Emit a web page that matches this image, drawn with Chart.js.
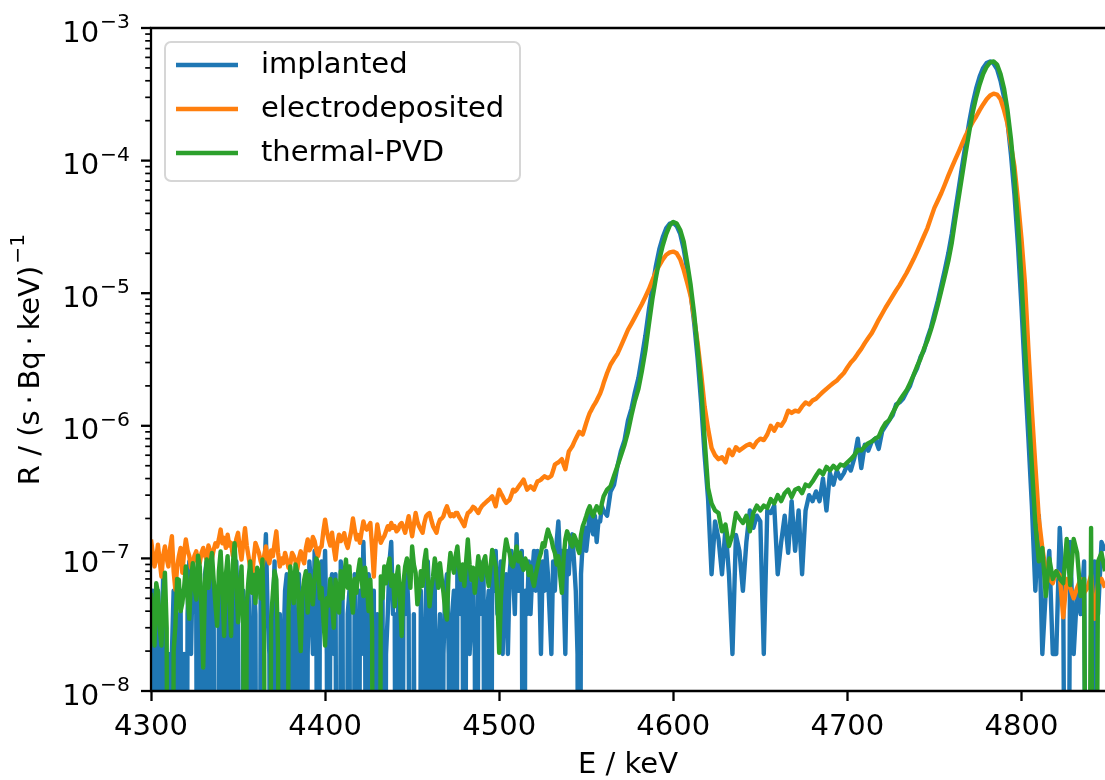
<!DOCTYPE html>
<html>
<head>
<meta charset="utf-8">
<script src="https://cdn.jsdelivr.net/npm/chart.js@4.4.1/dist/chart.umd.min.js"></script>
<style>
  html, body { margin: 0; padding: 0; background: #fff; overflow: hidden; }
  canvas { display: block; }
</style>
</head>
<body>
<canvas id="spectrum" width="1105" height="780"></canvas>
<script>
// energy bins: 1 keV up to 4560 keV (noisy tail), 2 keV above
var energy = [];
for (var e = 4300; e <= 4560; e += 1) energy.push(e);
for (var e2 = 4562; e2 <= 4848; e2 += 2) energy.push(e2);

// R / (s Bq keV)^-1 (row start energy in comment)
var implanted = [
  // 1 keV bins, 20 per row
  1.9e-8, 5.7e-8, 0, 3.8e-8, 5.7e-8, 0, 1.9e-8, 7.6e-8, 0, 1.9e-8, 1.9e-8, 0, 1.9e-8, 5.7e-8, 0, 3.8e-8, 0, 5.7e-8, 0, 1.9e-8, // 4300
  0, 3.8e-8, 9.5e-8, 1.9e-8, 9.5e-8, 5.7e-8, 3.8e-8, 0, 5.7e-8, 1.9e-8, 0, 7.6e-8, 9.5e-8, 0, 3.8e-8, 7.6e-8, 3.8e-8, 0, 0, 5.7e-8, // 4320
  5.7e-8, 1.9e-8, 0, 7.6e-8, 0, 3.8e-8, 5.7e-8, 0, 3.8e-8, 9.5e-8, 3.8e-8, 0, 0, 5.7e-8, 1.9e-8, 0, 5.7e-8, 1.9e-8, 0, 7.6e-8, // 4340
  3.8e-8, 0, 0, 5.7e-8, 1.9e-8, 7.6e-8, 1.52e-7, 3.8e-8, 1.9e-8, 0, 3.8e-8, 9.5e-8, 0, 1.9e-8, 3.8e-8, 0, 1.9e-8, 5.7e-8, 7.6e-8, 0, // 4360
  0, 3.8e-8, 5.7e-8, 0, 1.9e-8, 7.6e-8, 0, 3.8e-8, 5.7e-8, 0, 1.9e-8, 9.5e-8, 5.7e-8, 1.9e-8, 1.14e-7, 3.8e-8, 0, 5.7e-8, 9.5e-8, 3.8e-8, // 4380
  1.14e-7, 1.9e-8, 0, 5.7e-8, 7.6e-8, 1.9e-8, 7.6e-8, 0, 0, 9.5e-8, 5.7e-8, 0, 0, 3.8e-8, 5.7e-8, 0, 0, 7.6e-8, 1.9e-8, 0, // 4400
  5.7e-8, 1.9e-8, 1.33e-7, 3.8e-8, 0, 7.6e-8, 5.7e-8, 1.9e-8, 5.7e-8, 0, 3.8e-8, 0, 0, 5.7e-8, 0, 1.9e-8, 3.8e-8, 9.5e-8, 1.33e-7, 3.8e-8, // 4420
  3.8e-8, 0, 7.6e-8, 1.9e-8, 0, 5.7e-8, 3.8e-8, 7.6e-8, 3.8e-8, 0, 0, 3.8e-8, 0, 0, 0, 5.7e-8, 1.9e-8, 0, 5.7e-8, 9.5e-8, // 4440
  3.8e-8, 0, 3.8e-8, 7.6e-8, 0, 1.9e-8, 3.8e-8, 0, 1.9e-8, 5.7e-8, 7.6e-8, 1.9e-8, 0, 3.8e-8, 5.7e-8, 0, 9.5e-8, 5.7e-8, 3.8e-8, 7.6e-8, // 4460
  0, 5.7e-8, 9.5e-8, 1.9e-8, 3.8e-8, 7.6e-8, 1.9e-8, 0, 7.6e-8, 3.8e-8, 5.7e-8, 9.5e-8, 0, 3.8e-8, 5.7e-8, 0, 1.14e-7, 5.7e-8, 1.14e-7, 3.8e-8, // 4480
  5.7e-8, 9.5e-8, 1.9e-8, 5.7e-8, 7.6e-8, 1.9e-8, 7.6e-8, 1.14e-7, 7.6e-8, 3.8e-8, 1.52e-7, 5.7e-8, 7.6e-8, 1.14e-7, 0, 5.7e-8, 3.8e-8, 9.5e-8, 3.8e-8, 7.6e-8, // 4500
  1.14e-7, 5.7e-8, 1.14e-7, 7.6e-8, 1.9e-8, 9.5e-8, 5.7e-8, 1.14e-7, 7.6e-8, 3.8e-8, 1.9e-8, 9.5e-8, 5.7e-8, 1.33e-7, 1.9e-7, 9.5e-8, 1.14e-7, 5.7e-8, 1.9e-8, 1.14e-7, // 4520
  7.6e-8, 1.33e-7, 1.52e-7, 9.5e-8, 5.7e-8, 1.9e-8, 0, 7.6e-8, 1.33e-7, 1.71e-7, 1.14e-7, 1.52e-7, 2.28e-7, 1.71e-7, 1.52e-7, 2.09e-7, 1.33e-7, 1.9e-7, 1.9e-7, 2.47e-7, // 4540
  2.28e-7, // 4560
  // 2 keV bins
  2.1e-7, 3.2e-7, 3.6e-7, 5.0e-7, 6.5e-7, 7.8e-7, 1.1e-6, 1.35e-6, 1.8e-6,          // 4562
  2.3e-6, 3.3e-6, 4.8e-6, 7.5e-6, 1.1e-5, 1.6e-5, 2.15e-5, 2.65e-5, 3.1e-5, 3.35e-5, // 4580
  3.4e-5, 3.2e-5, 2.8e-5, 2.15e-5, 1.5e-5, 1.0e-5, 6.0e-6, 3.2e-6, 1.5e-6, 6.0e-7,  // 4600
  2.8e-7, 7.6e-8, 1.9e-7, 1.4e-7, 7.6e-8, 1.7e-7, 7.6e-8, 1.9e-8, 1.5e-7, 1.14e-7, // 4620
  5.7e-8, 1.33e-7, 2.3e-7, 1.7e-7, 2.1e-7, 1.9e-7, 1.9e-8, 2.3e-7, 2.2e-7, 2.5e-7, // 4640
  7.6e-8, 1.33e-7, 2.1e-7, 1.1e-7, 2.7e-7, 1.14e-7, 2.3e-7, 7.6e-8, 2.3e-7, 3.0e-7, // 4660
  2.7e-7, 3.2e-7, 2.7e-7, 4.0e-7, 2.3e-7, 4.4e-7, 3.6e-7, 4.6e-7, 4.0e-7, 4.4e-7,  // 4680
  5.1e-7, 4.6e-7, 5.7e-7, 8.0e-7, 4.8e-7, 7.2e-7, 6.5e-7, 7.6e-7, 8.0e-7, 6.7e-7,  // 4700
  9.1e-7, 1.0e-6, 1.1e-6, 1.2e-6, 1.45e-6, 1.5e-6, 1.6e-6, 1.8e-6, 2.0e-6, 2.4e-6, // 4720
  2.7e-6, 3.3e-6, 3.7e-6, 4.6e-6, 5.5e-6, 7.0e-6, 8.8e-6, 1.15e-5, 1.5e-5, 2.0e-5, // 4740
  2.8e-5, 4.2e-5, 6.2e-5, 9.2e-5, 1.35e-4, 1.95e-4, 2.7e-4, 3.5e-4, 4.3e-4, 5.0e-4, // 4760
  5.45e-4, 5.6e-4, 5.4e-4, 4.9e-4, 4.0e-4, 3.0e-4, 1.95e-4, 1.1e-4, 5.5e-5, 2.3e-5, // 4780
  8.0e-6, 2.4e-6, 8.0e-7, 2.5e-7, 5.7e-8, 2.1e-7, 1.9e-8, 5.7e-8, 1.14e-7, 1.9e-8, // 4800
  1.9e-8, 1.7e-7, 5.7e-8, 0, 1.33e-7, 1.9e-8, 5.7e-8, 3.8e-8, 9.5e-8, 0,          // 4820
  0, 9.5e-8, 3.8e-8, 1.33e-7, 1.14e-7                                             // 4840
];

var electrodeposited = [
  // 1 keV bins, 20 per row
  1.39e-7, 1.1e-7, 8.7e-8, 1.0e-7, 1.27e-7, 9.5e-8, 7.3e-8, 1.05e-7, 1.23e-7, 1.0e-7, 8.7e-8, 1.2e-7, 1.47e-7, 8.0e-8, 5.8e-8, 8.5e-8, 1.04e-7, 1.2e-7, 7.8e-8, 1.1e-7, // 4300
  1.39e-7, 1.15e-7, 1.04e-7, 8.5e-8, 9.2e-8, 1.05e-7, 1.13e-7, 9.0e-8, 9.2e-8, 1.1e-7, 1.2e-7, 1.05e-7, 9.8e-8, 1.25e-7, 1.13e-7, 1.0e-7, 1.16e-7, 1.3e-7, 1.23e-7, 1.4e-7, // 4320
  1.65e-7, 1.3e-7, 1.43e-7, 1.2e-7, 1.51e-7, 1.25e-7, 1.31e-7, 1.05e-7, 1.16e-7, 1.4e-7, 1.56e-7, 1.2e-7, 9.8e-8, 1.3e-7, 1.69e-7, 1.25e-7, 1.04e-7, 8.5e-8, 6.9e-8, 1.0e-7, // 4340
  1.31e-7, 1.2e-7, 1.1e-7, 9.5e-8, 8.7e-8, 1.05e-7, 1.23e-7, 1.0e-7, 9.2e-8, 1.15e-7, 1.04e-7, 1.3e-7, 1.6e-7, 1.1e-7, 8.7e-8, 1.0e-7, 9.2e-8, 1.1e-7, 9.8e-8, 8.5e-8, // 4360
  9.0e-8, 1.1e-7, 1.04e-7, 9.5e-8, 8.2e-8, 1.0e-7, 1.13e-7, 1.0e-7, 9.2e-8, 1.2e-7, 1.39e-7, 1.15e-7, 1.23e-7, 1.45e-7, 1.35e-7, 1.15e-7, 1.04e-7, 1.2e-7, 1.23e-7, 1.6e-7, // 4380
  1.96e-7, 1.6e-7, 1.39e-7, 1.25e-7, 1.56e-7, 1.2e-7, 9.8e-8, 1.3e-7, 1.51e-7, 1.35e-7, 1.43e-7, 1.55e-7, 1.31e-7, 1.2e-7, 1.39e-7, 1.6e-7, 2.0e-7, 1.65e-7, 1.39e-7, 1.5e-7, // 4400
  1.31e-7, 1.6e-7, 1.9e-7, 1.7e-7, 1.65e-7, 1.75e-7, 1.85e-7, 1.2e-7, 7.3e-8, 1.3e-7, 1.8e-7, 1.5e-7, 1.31e-7, 1.4e-7, 1.47e-7, 1.6e-7, 1.75e-7, 1.65e-7, 1.85e-7, 1.7e-7, // 4420
  1.75e-7, 1.6e-7, 1.65e-7, 1.8e-7, 1.85e-7, 1.7e-7, 1.56e-7, 1.8e-7, 2.08e-7, 1.75e-7, 1.47e-7, 1.8e-7, 2.2e-7, 1.9e-7, 1.75e-7, 1.65e-7, 1.56e-7, 1.85e-7, 2.08e-7, 2.15e-7, // 4440
  2.2e-7, 1.95e-7, 1.75e-7, 1.65e-7, 1.56e-7, 1.8e-7, 1.96e-7, 2.0e-7, 2.08e-7, 2.3e-7, 2.47e-7, 2.25e-7, 2.08e-7, 2.15e-7, 2.08e-7, 2.2e-7, 2.2e-7, 2.05e-7, 1.96e-7, 1.85e-7, // 4460
  1.75e-7, 2.0e-7, 2.2e-7, 2.25e-7, 2.33e-7, 2.45e-7, 2.4e-7, 2.3e-7, 2.2e-7, 2.35e-7, 2.47e-7, 2.55e-7, 2.62e-7, 2.7e-7, 2.77e-7, 2.85e-7, 2.94e-7, 2.7e-7, 2.47e-7, 2.9e-7, // 4480
  3.3e-7, 3.1e-7, 2.94e-7, 2.75e-7, 2.62e-7, 2.7e-7, 2.77e-7, 3.0e-7, 3.3e-7, 3.2e-7, 3.3e-7, 3.45e-7, 3.6e-7, 3.75e-7, 3.93e-7, 3.6e-7, 3.3e-7, 3.4e-7, 3.5e-7, 3.4e-7, // 4500
  3.3e-7, 3.55e-7, 3.81e-7, 3.85e-7, 3.93e-7, 4.05e-7, 4.16e-7, 4.1e-7, 4.04e-7, 4.1e-7, 4.2e-7, 4.6e-7, 5.1e-7, 5.2e-7, 5.3e-7, 5.45e-7, 5.6e-7, 5.1e-7, 4.7e-7, 5.5e-7, // 4520
  6.4e-7, 6.7e-7, 7.0e-7, 7.5e-7, 8.0e-7, 8.5e-7, 9.0e-7, 8.8e-7, 8.6e-7, 9.5e-7, 1.05e-6, 1.15e-6, 1.25e-6, 1.32e-6, 1.4e-6, 1.47e-6, 1.55e-6, 1.65e-6, 1.75e-6, 1.9e-6, // 4540
  2.1e-6, // 4560
  // 2 keV bins
  2.5e-6, 2.9e-6, 3.2e-6, 3.5e-6, 4.0e-6, 4.6e-6, 5.3e-6, 5.9e-6, 6.6e-6,               // 4562
  7.4e-6, 8.3e-6, 9.4e-6, 1.07e-5, 1.25e-5, 1.45e-5, 1.62e-5, 1.8e-5, 1.95e-5, 2.03e-5, // 4580
  2.06e-5, 2.0e-5, 1.8e-5, 1.5e-5, 1.2e-5, 9.5e-6, 6.5e-6, 4.2e-6, 2.5e-6, 1.4e-6,     // 4600
  9.5e-7, 6.8e-7, 6.0e-7, 5.6e-7, 5.8e-7, 5.3e-7, 6.6e-7, 6.0e-7, 6.9e-7, 6.5e-7,     // 4620
  6.8e-7, 7.1e-7, 7.3e-7, 6.9e-7, 7.6e-7, 8.0e-7, 7.8e-7, 8.6e-7, 1.0e-6, 9.2e-7,     // 4640
  1.03e-6, 1.0e-6, 1.1e-6, 1.3e-6, 1.25e-6, 1.3e-6, 1.28e-6, 1.4e-6, 1.5e-6, 1.45e-6, // 4660
  1.55e-6, 1.6e-6, 1.7e-6, 1.8e-6, 1.9e-6, 2.0e-6, 2.1e-6, 2.2e-6, 2.35e-6, 2.5e-6,   // 4680
  2.75e-6, 3.0e-6, 3.2e-6, 3.5e-6, 3.8e-6, 4.2e-6, 4.6e-6, 5.0e-6, 5.6e-6, 6.3e-6,    // 4700
  7.0e-6, 7.8e-6, 8.6e-6, 9.5e-6, 1.05e-5, 1.15e-5, 1.28e-5, 1.42e-5, 1.6e-5, 1.8e-5, // 4720
  2.05e-5, 2.35e-5, 2.7e-5, 3.1e-5, 3.7e-5, 4.4e-5, 5.0e-5, 5.7e-5, 6.6e-5, 7.7e-5,   // 4740
  8.9e-5, 1.02e-4, 1.17e-4, 1.35e-4, 1.55e-4, 1.75e-4, 1.95e-4, 2.15e-4, 2.4e-4, 2.65e-4, // 4760
  2.9e-4, 3.1e-4, 3.2e-4, 3.15e-4, 2.9e-4, 2.4e-4, 1.9e-4, 1.3e-4, 9.0e-5, 5.0e-5,     // 4780
  2.6e-5, 1.2e-5, 3.8e-6, 1.3e-6, 5.0e-7, 2.0e-7, 1.2e-7, 8.0e-8, 7.0e-8, 6.5e-8,      // 4800
  8.0e-8, 7.5e-8, 3.6e-8, 7.0e-8, 6.0e-8, 5.0e-8, 6.0e-8, 7.0e-8, 5.5e-8, 6.0e-8,      // 4820
  7.5e-8, 3.5e-8, 6.5e-8, 7.0e-8, 6.0e-8                                                // 4840
];

var thermalPVD = [
  // 1 keV bins, 20 per row
  5.5e-8, 3.6e-8, 2.2e-8, 6.5e-8, 5.5e-8, 3.0e-8, 2.2e-8, 4.8e-8, 7.8e-8, 3.0e-8, 0, 0, 0, 2.0e-8, 3.1e-8, 7.0e-8, 6.9e-8, 4.0e-8, 4.6e-8, 6.0e-8, // 4300
  8.7e-8, 5.0e-8, 3.5e-8, 7.0e-8, 9.2e-8, 6.0e-8, 4.9e-8, 1.05e-7, 8.7e-8, 4.0e-8, 1.5e-8, 6.5e-8, 9.8e-8, 6.0e-8, 8.7e-8, 1.1e-7, 6.9e-8, 4.5e-8, 3.1e-8, 8.0e-8, // 4320
  1.13e-7, 6.0e-8, 2.6e-8, 7.5e-8, 1.04e-7, 5.0e-8, 2.6e-8, 9.0e-8, 1.3e-7, 7.0e-8, 3.3e-8, 5.5e-8, 8.7e-8, 3.0e-8, 0, 4.5e-8, 6.9e-8, 9.5e-8, 5.5e-8, 7.5e-8, // 4340
  4.6e-8, 8.5e-8, 7.5e-8, 5.0e-8, 9.8e-8, 2.5e-8, 0, 0, 0, 3.5e-8, 5.5e-8, 8.0e-8, 6.9e-8, 2.0e-8, 0, 0, 0, 0, 0, 4.0e-8, // 4360
  8.7e-8, 6.5e-8, 4.6e-8, 9.0e-8, 7.8e-8, 4.0e-8, 2.0e-8, 5.5e-8, 6.9e-8, 8.0e-8, 3.9e-8, 7.5e-8, 6.2e-8, 4.5e-8, 7.0e-8, 1.0e-7, 9.2e-8, 5.0e-8, 6.0e-8, 3.5e-8, // 4380
  2.2e-8, 5.0e-8, 4.4e-8, 7.0e-8, 4.6e-8, 3.0e-8, 6.9e-8, 5.5e-8, 3.9e-8, 8.0e-8, 5.0e-8, 7.5e-8, 9.8e-8, 6.0e-8, 8.7e-8, 5.0e-8, 3.9e-8, 7.0e-8, 5.5e-8, 8.0e-8, // 4400
  9.8e-8, 7.0e-8, 5.2e-8, 8.5e-8, 6.2e-8, 4.0e-8, 6.9e-8, 3.0e-8, 0, 0, 0, 0, 7.3e-8, 5.0e-8, 8.7e-8, 6.5e-8, 8.7e-8, 1.0e-7, 6.2e-8, 7.5e-8, // 4420
  4.35e-8, 7.0e-8, 8.7e-8, 5.0e-8, 2.6e-8, 6.5e-8, 8.7e-8, 1.0e-7, 8.7e-8, 6.0e-8, 1.23e-7, 9.0e-8, 7.8e-8, 4.5e-8, 5.5e-8, 8.0e-8, 6.2e-8, 9.5e-8, 1.16e-7, 7.0e-8, // 4440
  4.35e-8, 6.0e-8, 7.3e-8, 1.0e-7, 8.2e-8, 6.0e-8, 9.2e-8, 7.0e-8, 5.5e-8, 4.0e-8, 3.46e-8, 8.0e-8, 1.1e-7, 9.0e-8, 7.8e-8, 1.05e-7, 1.23e-7, 8.5e-8, 6.9e-8, 9.0e-8, // 4460
  6.2e-8, 9.5e-8, 1.39e-7, 9.0e-8, 6.9e-8, 8.5e-8, 5.5e-8, 7.5e-8, 1.04e-7, 8.0e-8, 6.9e-8, 9.5e-8, 1.04e-7, 7.5e-8, 6.2e-8, 8.5e-8, 1.16e-7, 1.0e-7, 8.7e-8, 5.0e-8, // 4480
  1.94e-8, 5.0e-8, 7.8e-8, 1.1e-7, 1.39e-7, 1.2e-7, 1.1e-7, 9.0e-8, 8.7e-8, 1.05e-7, 1.23e-7, 9.5e-8, 1.1e-7, 9.0e-8, 8.2e-8, 1.0e-7, 9.2e-8, 7.5e-8, 8.7e-8, 7.0e-8, // 4500
  6.2e-8, 7.5e-8, 8.7e-8, 1.0e-7, 1.1e-7, 1.3e-7, 1.23e-7, 1.45e-7, 1.65e-7, 1.5e-7, 1.39e-7, 1.2e-7, 1.1e-7, 9.0e-8, 1.04e-7, 7.5e-8, 5.5e-8, 1.0e-7, 1.39e-7, 1.6e-7, // 4520
  1.47e-7, 1.3e-7, 1.23e-7, 1.5e-7, 1.39e-7, 1.2e-7, 1.1e-7, 1.5e-7, 1.75e-7, 1.9e-7, 2.08e-7, 2.3e-7, 2.47e-7, 2.2e-7, 2.08e-7, 2.3e-7, 2.47e-7, 2.35e-7, 2.2e-7, 2.6e-7, // 4540
  2.94e-7, // 4560
  // 2 keV bins
  3.3e-7, 3.5e-7, 4.2e-7, 5.0e-7, 6.0e-7, 7.2e-7, 9.0e-7, 1.2e-6, 1.55e-6,            // 4562
  1.9e-6, 2.6e-6, 3.7e-6, 5.8e-6, 9.0e-6, 1.3e-5, 1.8e-5, 2.3e-5, 2.8e-5, 3.25e-5,    // 4580
  3.45e-5, 3.35e-5, 3.0e-5, 2.45e-5, 1.7e-5, 1.15e-5, 7.0e-6, 3.8e-6, 2.0e-6, 8.0e-7, // 4600
  3.4e-7, 2.6e-7, 2.3e-7, 2.2e-7, 1.6e-7, 1.8e-7, 1.24e-7, 1.5e-7, 2.2e-7, 2.0e-7,    // 4620
  1.85e-7, 2.1e-7, 1.6e-7, 2.2e-7, 2.5e-7, 2.3e-7, 2.5e-7, 2.4e-7, 2.8e-7, 2.6e-7,    // 4640
  3.0e-7, 2.7e-7, 3.1e-7, 3.3e-7, 2.9e-7, 3.3e-7, 3.4e-7, 3.1e-7, 3.6e-7, 3.5e-7,     // 4660
  3.8e-7, 4.2e-7, 4.6e-7, 4.3e-7, 4.9e-7, 4.6e-7, 5.0e-7, 4.7e-7, 5.1e-7, 5.0e-7,     // 4680
  5.3e-7, 5.6e-7, 6.0e-7, 6.6e-7, 6.5e-7, 7.0e-7, 7.4e-7, 7.6e-7, 8.0e-7, 8.3e-7,     // 4700
  9.5e-7, 1.05e-6, 1.1e-6, 1.25e-6, 1.4e-6, 1.55e-6, 1.7e-6, 1.85e-6, 2.1e-6, 2.4e-6, // 4720
  2.8e-6, 3.2e-6, 3.8e-6, 4.4e-6, 5.3e-6, 6.5e-6, 8.2e-6, 1.05e-5, 1.35e-5, 1.75e-5,  // 4740
  2.4e-5, 3.6e-5, 5.3e-5, 7.8e-5, 1.15e-4, 1.65e-4, 2.3e-4, 3.0e-4, 3.75e-4, 4.5e-4,  // 4760
  5.1e-4, 5.5e-4, 5.6e-4, 5.3e-4, 4.5e-4, 3.5e-4, 2.4e-4, 1.45e-4, 7.5e-5, 3.4e-5,    // 4780
  1.3e-5, 4.0e-6, 1.4e-6, 5.0e-7, 1.8e-7, 9.5e-8, 1.2e-7, 5.2e-8, 1.0e-7, 7.0e-8,     // 4800
  8.0e-8, 7.0e-8, 6.5e-8, 1.4e-7, 6.3e-8, 1.4e-7, 1.1e-7, 5.2e-8, 7.0e-8, 0,          // 4820
  1.7e-7, 0, 9.5e-8, 1.1e-7, 8.0e-8                                                    // 4840
];

var seriesNames = ['implanted', 'electrodeposited', 'thermal-PVD'];
var seriesColors = ['#1f77b4', '#ff7f0e', '#2ca02c'];
var xTicks = [4300, 4400, 4500, 4600, 4700, 4800];
var yDecades = [-8, -7, -6, -5, -4, -3];

var FONT = '"DejaVu Sans", sans-serif';
var FS = 29;       // main text size
var FS_SUP = 20.3; // exponent size

// empty bins fall off the log axis, as in the original
function points(values) {
  return energy.map(function(en, i) {
    return { x: en, y: values[i] > 0 ? values[i] : 1e-12 };
  });
}

function makeSet(i, values) {
  return {
    label: seriesNames[i],
    data: points(values),
    borderColor: seriesColors[i],
    backgroundColor: seriesColors[i],
    borderWidth: 4.4,
    borderJoinStyle: 'round',
    borderCapStyle: 'butt',
    pointRadius: 0,
    tension: 0,
    clip: 0,
    order: 3 - i
  };
}

var frame = {
  id: 'frame',
  afterDatasetsDraw: function(chart) {
    var ctx = chart.ctx, a = chart.chartArea, y = chart.scales.y;
    ctx.save();
    ctx.strokeStyle = '#000';
    ctx.fillStyle = '#000';

    // log ticks on the left axis
    yDecades.forEach(function(p) {
      for (var m = 1; m <= 9; m++) {
        var py = y.getPixelForValue(m * Math.pow(10, p));
        var major = m === 1;
        ctx.lineWidth = major ? 2.3 : 1.7;
        ctx.beginPath();
        ctx.moveTo(a.left - (major ? 10 : 5.8), py);
        ctx.lineTo(a.left, py);
        ctx.stroke();
        if (p === -3) break;
      }
      // label 10^p
      var py0 = y.getPixelForValue(Math.pow(10, p));
      var sup = '\u2212' + Math.abs(p);
      ctx.textAlign = 'right';
      ctx.textBaseline = 'alphabetic';
      ctx.font = FS_SUP + 'px ' + FONT;
      var ws = ctx.measureText(sup).width;
      ctx.fillText(sup, 130, py0);
      ctx.font = FS + 'px ' + FONT;
      ctx.fillText('10', 130 - ws - 1, py0 + 13.5);
    });

    // spines
    ctx.lineWidth = 2.3;
    ctx.lineCap = 'square';
    ctx.beginPath();
    ctx.moveTo(a.right + 5, a.top);
    ctx.lineTo(a.left, a.top);
    ctx.lineTo(a.left, a.bottom);
    ctx.lineTo(a.right + 5, a.bottom);
    ctx.stroke();
    ctx.restore();
  },
  afterDraw: function(chart) {
    var ctx = chart.ctx, a = chart.chartArea;
    ctx.save();

    // y axis title
    var main = 'R / (s\u2009\u00b7\u2009Bq\u2009\u00b7\u2009keV)';
    var sup = '\u22121';
    ctx.font = FS + 'px ' + FONT;
    var wm = ctx.measureText(main).width;
    ctx.font = FS_SUP + 'px ' + FONT;
    var ws = ctx.measureText(sup).width;
    var total = wm + ws + 2;
    ctx.translate(30, (a.top + a.bottom) / 2);
    ctx.rotate(-Math.PI / 2);
    ctx.fillStyle = '#000';
    ctx.textAlign = 'left';
    ctx.textBaseline = 'alphabetic';
    ctx.font = FS + 'px ' + FONT;
    ctx.fillText(main, -total / 2, 8.6);
    ctx.font = FS_SUP + 'px ' + FONT;
    ctx.fillText(sup, -total / 2 + wm + 2, 8.6 - 14.8);
    ctx.setTransform(1, 0, 0, 1, 0, 0);

    // legend
    var bx = 165, by = 42, bw = 355, bh = 139, r = 6;
    ctx.beginPath();
    ctx.moveTo(bx + r, by);
    ctx.arcTo(bx + bw, by, bx + bw, by + bh, r);
    ctx.arcTo(bx + bw, by + bh, bx, by + bh, r);
    ctx.arcTo(bx, by + bh, bx, by, r);
    ctx.arcTo(bx, by, bx + bw, by, r);
    ctx.closePath();
    ctx.fillStyle = 'rgba(255,255,255,0.8)';
    ctx.fill();
    ctx.strokeStyle = '#d6d6d6';
    ctx.lineWidth = 2;
    ctx.stroke();

    var rows = [65, 109, 153];
    chart.data.datasets.forEach(function(ds, i) {
      ctx.strokeStyle = ds.borderColor;
      ctx.lineWidth = 4.4;
      ctx.beginPath();
      ctx.moveTo(176, rows[i]);
      ctx.lineTo(238, rows[i]);
      ctx.stroke();
      ctx.fillStyle = '#000';
      ctx.font = FS + 'px ' + FONT;
      ctx.textAlign = 'left';
      ctx.textBaseline = 'middle';
      ctx.fillText(ds.label, 261, rows[i]);
    });
    ctx.restore();
  }
};

new Chart(document.getElementById('spectrum'), {
  type: 'line',
  data: {
    datasets: [
      makeSet(0, implanted),
      makeSet(1, electrodeposited),
      makeSet(2, thermalPVD)
    ]
  },
  options: {
    responsive: false,
    devicePixelRatio: 1,
    animation: false,
    events: [],
    layout: { padding: { top: 28, right: 0, bottom: 0, left: 0 } },
    plugins: { legend: { display: false }, tooltip: { enabled: false } },
    scales: {
      x: {
        type: 'linear',
        min: 4300,
        max: 4848,
        afterFit: function(s) { s.height = 89; },
        border: { display: false },
        grid: { display: true, drawOnChartArea: false, drawTicks: true, tickLength: 10, tickWidth: 2.3, tickColor: '#000' },
        afterBuildTicks: function(s) { s.ticks = xTicks.map(function(v) { return { value: v }; }); },
        ticks: {
          autoSkip: false,
          maxRotation: 0,
          padding: 9,
          color: '#000',
          font: { family: FONT, size: FS },
          callback: function(v) { return String(v); }
        },
        title: {
          display: true,
          text: 'E / keV',
          color: '#000',
          font: { family: FONT, size: FS, lineHeight: 1 },
          padding: { top: 0, bottom: 0 }
        }
      },
      y: {
        type: 'logarithmic',
        min: 1e-8,
        max: 1e-3,
        afterFit: function(s) { s.width = 151; },
        border: { display: false },
        grid: { display: false },
        ticks: { display: false }
      }
    }
  },
  plugins: [frame]
});
</script>
</body>
</html>
